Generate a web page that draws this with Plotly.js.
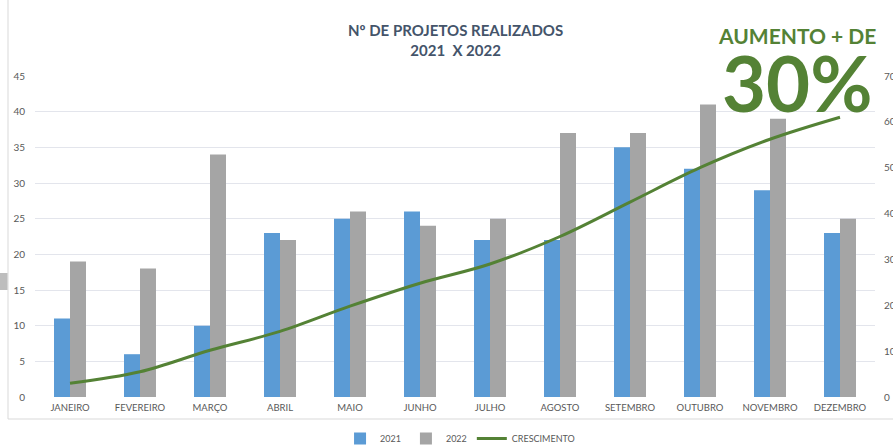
<!DOCTYPE html>
<html>
<head>
<meta charset="utf-8">
<script src="https://cdn.plot.ly/plotly-3.0.1.min.js"></script>
<style>html,body{margin:0;padding:0;background:#fff;}#chart{width:893px;height:448px;}</style>
</head>
<body>
<div id="chart"></div>
<script>
const months = ["JANEIRO","FEVEREIRO","MARÇO","ABRIL","MAIO","JUNHO","JULHO","AGOSTO","SETEMBRO","OUTUBRO","NOVEMBRO","DEZEMBRO"];
const projetos2021 = [11, 6, 10, 23, 25, 26, 22, 22, 35, 32, 29, 23];
const projetos2022 = [19, 18, 34, 22, 26, 24, 25, 37, 37, 41, 39, 25];
const crescimento = [3, 5.5, 10.2, 14.3, 19.8, 24.8, 29, 35, 42.5, 50, 56.2, 61];
const leftTicks = [0,5,10,15,20,25,30,35,40,45];
const rightTicks = [0,10,20,30,40,50,60,70];

const FONT = "Lato, 'Liberation Sans', sans-serif";
const tickColor = "#595959";

const traces = [
  {type:"bar", name:"2021", x:months, y:projetos2021, marker:{color:"#5b9bd5"}, yaxis:"y"},
  {type:"bar", name:"2022", x:months, y:projetos2022, marker:{color:"#a5a5a5"}, yaxis:"y"},
  {type:"scatter", mode:"lines", name:"CRESCIMENTO", x:months, y:crescimento, yaxis:"y2",
   line:{color:"#548235", width:3, shape:"spline", smoothing:1}}
];

const pxX = px => (px-35)/840;
const pxY = py => (397-py)/321;

const layout = {
  width:893, height:448,
  margin:{l:35, r:18, t:76, b:51, autoexpand:false},
  paper_bgcolor:"#fff", plot_bgcolor:"#fff",
  font:{family:FONT, color:tickColor, size:10},
  barmode:"group", bargap:0.543, bargroupgap:0,
  showlegend:true,
  legend:{orientation:"h", x:0.506, xanchor:"center", y:pxY(424), yanchor:"top",
          font:{size:9, color:tickColor}, itemwidth:30, traceorder:"normal"},
  xaxis:{type:"category", showgrid:false, zeroline:false, showline:false, ticks:"",
         tickfont:{size:9.5, color:tickColor}, ticklabelstandoff:3, fixedrange:true, automargin:false},
  yaxis:{range:[0,45], tickvals:leftTicks, showgrid:true, gridcolor:"#e3e5ec", gridwidth:1,
         zeroline:false, showline:false, ticks:"", tickfont:{size:10, color:tickColor},
         ticklabelstandoff:9, automargin:false},
  yaxis2:{range:[0,70], tickvals:rightTicks, overlaying:"y", side:"right", showgrid:false,
          zeroline:false, showline:false, ticks:"", tickfont:{size:10, color:tickColor},
          ticklabelstandoff:8, automargin:false},
  annotations:[
    {text:"Nº DE PROJETOS REALIZADOS<br>2021\u00a0\u00a0X 2022", xref:"paper", yref:"paper",
     x:0.5, y:pxY(40), xanchor:"center", yanchor:"middle", showarrow:false,
     font:{family:FONT, size:15, color:"#44546a", weight:"bold"}},
    {text:"<b>AUMENTO + DE</b>", xref:"paper", yref:"paper", x:pxX(797), y:pxY(35),
     xanchor:"center", yanchor:"middle", showarrow:false,
     font:{family:FONT, size:21, color:"#548235"}},
    {text:"<b>30%</b>", xref:"paper", yref:"paper", x:pxX(797), y:pxY(82),
     xanchor:"center", yanchor:"middle", showarrow:false,
     font:{family:FONT, size:76, color:"#548235"}}
  ],
  shapes:[
    {type:"line", xref:"paper", yref:"paper", x0:pxX(8), x1:pxX(8), y0:pxY(419), y1:pxY(-5),
     line:{color:"#d9d9d9", width:1}},
    {type:"line", xref:"paper", yref:"paper", x0:pxX(8), x1:pxX(900), y0:pxY(419), y1:pxY(419),
     line:{color:"#d9d9d9", width:1}},
    {type:"rect", xref:"paper", yref:"paper", x0:pxX(0), x1:pxX(7.5), y0:pxY(290), y1:pxY(273),
     fillcolor:"#bdbdbd", line:{width:0}}
  ]
};

Plotly.newPlot("chart", traces, layout, {displayModeBar:false, staticPlot:true});
</script>
</body>
</html>
